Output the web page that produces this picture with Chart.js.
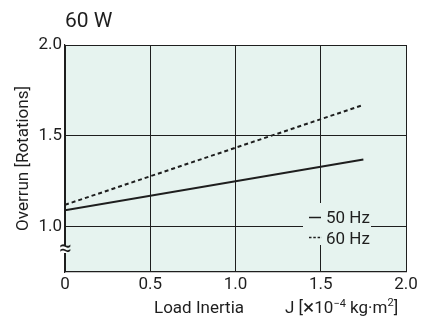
<!DOCTYPE html>
<html>
<head>
<meta charset="utf-8">
<script src="https://cdn.jsdelivr.net/npm/chart.js@4/dist/chart.umd.min.js"></script>
<style>
  html, body { margin: 0; padding: 0; background: #fff; }
  #wrap { width: 430px; height: 327px; }
</style>
</head>
<body>
<div id="wrap"><canvas id="chart" width="430" height="327"></canvas></div>
<script>

const loadInertia = [0, 1.75];
const overrun50 = [1.09, 1.37];
const overrun60 = [1.12, 1.67];

const xTicks = [0, 0.5, 1.0, 1.5, 2.0];
const xTickLabels = ["0", "0.5", "1.0", "1.5", "2.0"];
const yTicks = [1.0, 1.5, 2.0];
const yTickLabels = ["1.0", "1.5", "2.0"];

const seriesNames = ["50 Hz", "60 Hz"];
const chartTitle = "60 W";
const xTitle = "Load Inertia";

const FONT = "'Liberation Sans Narrow', 'Roboto', sans-serif";
const INK = "#1e1e1e";
const PLOT_BG = "#e6f3ef";

Chart.defaults.font.family = FONT;
Chart.defaults.font.size = 17;
Chart.defaults.color = INK;

function pts(xs, ys) {
    return xs.map((x, i) => ({ x: x, y: ys[i] }));
}

// background + title + legend + axis texts
const decor = {
    id: "decor",
    beforeDraw(chart) {
        const { ctx, chartArea: a } = chart;
        ctx.save();
        ctx.fillStyle = PLOT_BG;
        ctx.fillRect(a.left, a.top, a.right - a.left, a.bottom - a.top);
        ctx.restore();
    },
    afterDatasetsDraw(chart) {
        const { ctx, chartArea: a } = chart;
        ctx.save();

        // title
        ctx.fillStyle = INK;
        ctx.font = "21px " + FONT;
        ctx.textBaseline = "alphabetic";
        ctx.textAlign = "left";
        ctx.fillText(chartTitle, 65, 27);

        // legend box inside plot
        ctx.fillStyle = PLOT_BG;
        ctx.fillRect(303, 203, 68, 42);
        ctx.strokeStyle = INK;
        ctx.lineWidth = 1.5;
        ctx.beginPath();
        ctx.moveTo(309, 217.5); ctx.lineTo(321, 217.5);
        ctx.stroke();
        ctx.setLineDash([2.5, 1.8]);
        ctx.beginPath();
        ctx.moveTo(309, 237.5); ctx.lineTo(322, 237.5);
        ctx.stroke();
        ctx.setLineDash([]);
        ctx.fillStyle = INK;
        ctx.font = "17px " + FONT;
        ctx.fillText(seriesNames[0], 326, 223);
        ctx.fillText(seriesNames[1], 326, 244);

        // axis break mark
        ctx.fillStyle = "#fff";
        ctx.fillRect(a.left - 1, 246, 3, 7);
        ctx.fillStyle = INK;
        ctx.font = "22px " + FONT;
        ctx.textAlign = "center";
        ctx.textBaseline = "middle";
        ctx.fillText("\u2248", a.left + 0.5, 249.5);

        // x title
        ctx.textBaseline = "alphabetic";
        ctx.font = "17px " + FONT;
        ctx.fillText(xTitle, 199, 313);

        // unit label
        ctx.textAlign = "left";
        let x = 285;
        const base = 313;
        const parts = [
            ["J [", 17, 0],
            ["\u00d7", 21, 1],
            ["10", 17, 0],
            ["\u22124", 11, -6],
            [" kg\u00b7m", 17, 0],
            ["2", 11, -7],
            ["]", 17, 0]
        ];
        parts.forEach(p => {
            ctx.font = p[1] + "px " + FONT;
            ctx.fillText(p[0], x, base + p[2]);
            x += ctx.measureText(p[0]).width;
        });
        ctx.restore();
    }
};

const ctx = document.getElementById("chart").getContext("2d");

const chart = new Chart(ctx, {
    type: "line",
    data: {
        datasets: [{
            label: seriesNames[0],
            data: pts(loadInertia, overrun50),
            borderColor: INK,
            borderWidth: 2,
            pointRadius: 0,
            fill: false
        }, {
            label: seriesNames[1],
            data: pts(loadInertia, overrun60),
            borderColor: INK,
            borderWidth: 2,
            borderDash: [4, 3],
            pointRadius: 0,
            fill: false
        }]
    },
    options: {
        responsive: false,
        animation: false,
        layout: { padding: { left: 0, right: 24, top: 45, bottom: 0 } },
        plugins: {
            legend: { display: false },
            tooltip: { enabled: false }
        },
        scales: {
            x: {
                type: "linear",
                min: 0,
                max: 2.0,
                afterBuildTicks: s => { s.ticks = xTicks.map(v => ({ value: v })); },
                afterFit: s => { s.height = 55; },
                ticks: {
                    callback: (v, i) => xTickLabels[i],
                    padding: 3,
                    maxRotation: 0,
                    color: INK
                },
                grid: { color: INK, lineWidth: 1, drawTicks: false },
                border: { color: INK, width: 1.2 }
            },
            y: {
                min: 0.75,
                max: 2.0,
                afterBuildTicks: s => { s.ticks = yTicks.map(v => ({ value: v })); },
                afterFit: s => { s.width = 65; },
                ticks: {
                    callback: (v, i) => yTickLabels[i],
                    padding: 3,
                    color: INK
                },
                grid: { color: INK, lineWidth: 1, drawTicks: false },
                border: { color: INK, width: 1.2 },
                title: {
                    display: true,
                    text: "Overrun [Rotations]",
                    color: INK,
                    padding: { top: 14 }
                }
            }
        }
    },
    plugins: [decor]
});

</script>
</body>
</html>
